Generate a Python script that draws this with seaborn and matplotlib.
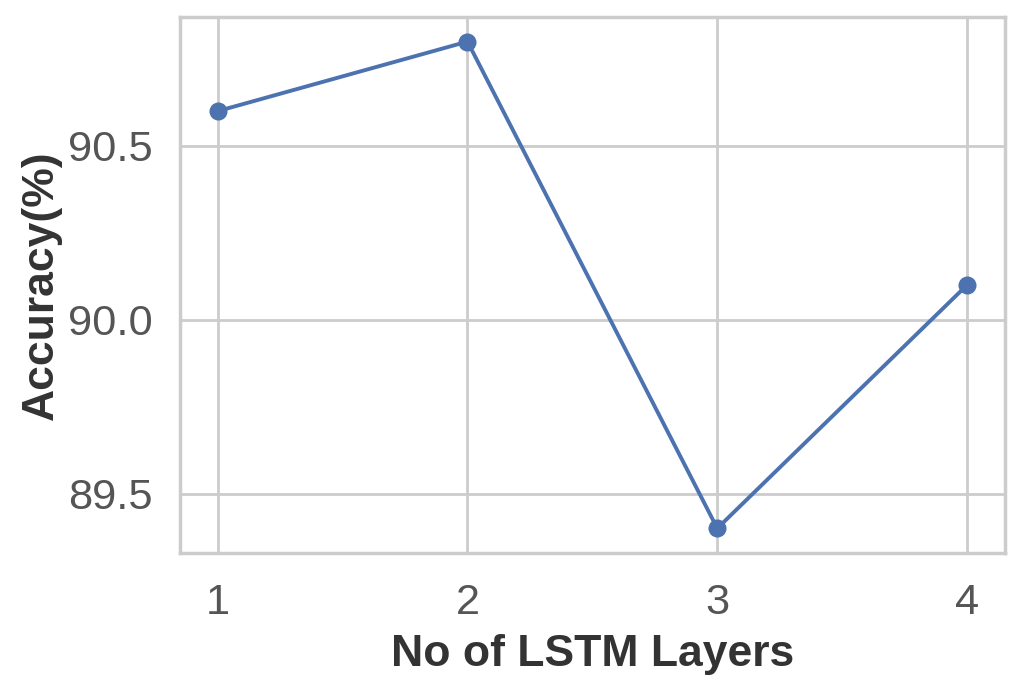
import pandas as pd
import matplotlib.pyplot as plt
import seaborn as sns

# values
layers = [1, 2, 3, 4]
accuracy = [90.6, 90.8, 89.4, 90.1]

data = pd.DataFrame({'layers': layers, 'accuracy': accuracy})

sns.set_theme(style='whitegrid')
plt.rcParams['font.family'] = ['Liberation Sans', 'DejaVu Sans']

fig, ax = plt.subplots(figsize=(5.12, 3.45), dpi=200)
sns.lineplot(data=data, x='layers', y='accuracy', marker='o', markersize=6.5,
             markeredgewidth=0, linewidth=1.4, color='#4c72b0', ax=ax)

ax.set_xticks(layers)
ax.set_yticks([89.5, 90.0, 90.5])
ax.tick_params(axis='both', labelsize=15.6, labelcolor='#555555', pad=4)
ax.tick_params(axis='x', pad=5)
ax.set_xlabel('No of LSTM Layers', fontsize=16, fontweight='bold', color='#333333', labelpad=4)
ax.set_ylabel('Accuracy(%)', fontsize=16, fontweight='bold', color='#333333', labelpad=2)

plt.subplots_adjust(left=0.176, right=0.981, top=0.975, bottom=0.199)
plt.savefig('out.png')
